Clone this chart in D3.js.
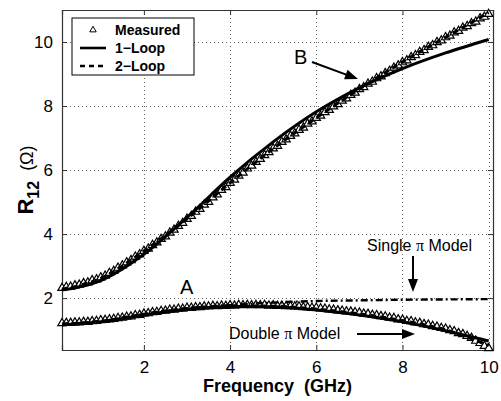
<!DOCTYPE html>
<html lang="en">
<head>
  <meta charset="UTF-8" />
  <title>R12 vs Frequency</title>
  <style>
    body {
      margin: 0;
      background: white;
    }
    svg text {
      font-family: 'Liberation Sans', Arial, sans-serif;
      fill: #000;
      white-space: pre;
    }
    .tick-label { font-size: 17px; }
    .axis-title { font-size: 18px; font-weight: bold; }
    .note { font-size: 16px; }
    .letter { font-size: 20px; }
    .legend-text { font-size: 14px; font-weight: bold; }
  </style>
</head>
<body>
  <svg width="501" height="401"></svg>

  <script src="https://d3js.org/d3.v7.min.js"></script>
  <script>
    // Frequency of measured points (GHz)
    const measFreq = d3.range(1, 101).map(i => i / 10);

    // Measured R12, curve B (upper)
    const measuredB = [
      2.30, 2.33, 2.34, 2.38, 2.40, 2.45, 2.47, 2.54, 2.57, 2.63,
      2.68, 2.77, 2.83, 2.93, 3.00, 3.10, 3.17, 3.28, 3.35, 3.46,
      3.53, 3.64, 3.72, 3.83, 3.91, 4.03, 4.12, 4.24, 4.33, 4.46,
      4.55, 4.68, 4.77, 4.90, 4.99, 5.13, 5.22, 5.36, 5.45, 5.58,
      5.68, 5.81, 5.90, 6.03, 6.12, 6.24, 6.33, 6.45, 6.54, 6.66,
      6.74, 6.86, 6.94, 7.05, 7.13, 7.24, 7.31, 7.43, 7.50, 7.61,
      7.68, 7.79, 7.86, 7.97, 8.04, 8.15, 8.22, 8.33, 8.40, 8.51,
      8.57, 8.68, 8.74, 8.85, 8.91, 9.01, 9.08, 9.18, 9.25, 9.35,
      9.41, 9.51, 9.57, 9.67, 9.73, 9.83, 9.88, 9.98, 10.03, 10.13,
      10.18, 10.28, 10.33, 10.43, 10.48, 10.57, 10.62, 10.72, 10.77, 10.86
    ];

    // Measured R12, curve A (lower)
    const measuredA = [
      1.20, 1.21, 1.21, 1.22, 1.22, 1.24, 1.24, 1.26, 1.27, 1.29,
      1.30, 1.32, 1.33, 1.36, 1.37, 1.40, 1.41, 1.45, 1.46, 1.50,
      1.51, 1.54, 1.55, 1.58, 1.59, 1.62, 1.62, 1.65, 1.65, 1.68,
      1.68, 1.70, 1.70, 1.72, 1.72, 1.74, 1.73, 1.75, 1.74, 1.76,
      1.75, 1.77, 1.76, 1.77, 1.76, 1.77, 1.76, 1.77, 1.75, 1.76,
      1.74, 1.75, 1.73, 1.73, 1.72, 1.72, 1.70, 1.70, 1.68, 1.68,
      1.66, 1.65, 1.63, 1.62, 1.60, 1.59, 1.57, 1.56, 1.54, 1.53,
      1.50, 1.49, 1.46, 1.45, 1.42, 1.41, 1.37, 1.36, 1.32, 1.31,
      1.27, 1.26, 1.22, 1.21, 1.17, 1.15, 1.11, 1.09, 1.05, 1.03,
      0.98, 0.95, 0.89, 0.86, 0.80, 0.74, 0.65, 0.58, 0.49, 0.42
    ];

    // Model curves, sampled at these frequencies (GHz)
    const modelFreq = [0.1, 1, 2, 3, 4, 5, 6, 7, 8, 9, 10];
    const oneLoopB  = [2.25, 2.55, 3.37, 4.52, 5.78, 6.88, 7.82, 8.57, 9.17, 9.66, 10.08];
    const twoLoopB  = [2.28, 2.62, 3.47, 4.48, 5.60, 6.67, 7.63, 8.53, 9.38, 10.15, 10.92];
    const oneLoopA  = [1.16, 1.26, 1.47, 1.65, 1.74, 1.73, 1.63, 1.47, 1.26, 0.98, 0.66];
    const twoLoopA  = [1.19, 1.28, 1.50, 1.68, 1.76, 1.75, 1.66, 1.51, 1.30, 1.01, 0.52];
    const singlePiA = [1.19, 1.28, 1.50, 1.68, 1.78, 1.86, 1.91, 1.93, 1.95, 1.96, 1.97];

    const xTicks = [2, 4, 6, 8, 10];
    const yTicks = [2, 4, 6, 8, 10];
    const legendLabels = ["Measured", "1\u2212Loop", "2\u2212Loop"];

    const margin = { left: 62, top: 10, right: 8, bottom: 51 };
    const width = 501, height = 401;
    const x = d3.scaleLinear().domain([0.1, 10.1]).range([margin.left, width - margin.right]);
    const y = d3.scaleLinear().domain([0.38, 11]).range([height - margin.bottom, margin.top]);

    const svg = d3.select("svg");
    const x0 = x.range()[0], x1 = x.range()[1];
    const y0 = y.range()[0], y1 = y.range()[1];

    // dotted grid
    const grid = svg.append("g").attr("stroke", "#666").attr("stroke-width", 1)
      .attr("stroke-dasharray", "1,3");
    xTicks.forEach(t => grid.append("line")
      .attr("x1", Math.round(x(t)) + 0.5).attr("x2", Math.round(x(t)) + 0.5)
      .attr("y1", y1).attr("y2", y0));
    yTicks.forEach(t => grid.append("line")
      .attr("x1", x0).attr("x2", x1)
      .attr("y1", Math.round(y(t)) + 0.5).attr("y2", Math.round(y(t)) + 0.5));

    // axes with inward ticks on all four sides
    const tk = 5;
    svg.append("g").attr("transform", `translate(0,${y0})`)
      .call(d3.axisBottom(x).tickValues(xTicks).tickSize(-tk).tickPadding(tk + 6).tickFormat(d3.format("d")));
    svg.append("g").attr("transform", `translate(0,${y1})`)
      .call(d3.axisTop(x).tickValues(xTicks).tickSize(-tk).tickFormat(""));
    svg.append("g").attr("transform", `translate(${x0},0)`)
      .call(d3.axisLeft(y).tickValues(yTicks).tickSize(-tk).tickPadding(tk + 4).tickFormat(d3.format("d")));
    svg.append("g").attr("transform", `translate(${x1},0)`)
      .call(d3.axisRight(y).tickValues(yTicks).tickSize(-tk).tickFormat(""));
    svg.selectAll(".domain").attr("stroke", "#333").attr("stroke-width", 1.2);
    svg.selectAll(".tick line").attr("stroke", "#333");
    svg.selectAll(".tick text").attr("class", "tick-label").attr("font-family", null).attr("font-size", null);

    const plot = svg.append("g");
    const line = d3.line()
      .x((d, i) => x(modelFreq[i]))
      .y(d => y(d))
      .curve(d3.curveMonotoneX);

    // measured triangles
    const tri = d3.symbol().type(d3.symbolTriangle).size(30);
    [measuredB, measuredA].forEach(vals => {
      plot.append("g").selectAll("path")
        .data(vals)
        .join("path")
          .attr("d", tri)
          .attr("transform", (d, i) => `translate(${x(measFreq[i])},${y(d) - 0.5})`)
          .attr("fill", "white")
          .attr("stroke", "#000")
          .attr("stroke-width", 1.2);
    });

    // model lines
    plot.append("path").attr("d", line(singlePiA)).attr("fill", "none")
      .attr("stroke", "#000").attr("stroke-width", 2.4).attr("stroke-dasharray", "7,3,2,3");
    [oneLoopB, oneLoopA].forEach(v => plot.append("path").attr("d", line(v))
      .attr("fill", "none").attr("stroke", "#000").attr("stroke-width", 3));
    [twoLoopB, twoLoopA].forEach(v => plot.append("path").attr("d", line(v))
      .attr("fill", "none").attr("stroke", "#000").attr("stroke-width", 3)
      .attr("stroke-dasharray", "6,4"));

    // axis titles
    svg.append("text").attr("class", "axis-title")
      .attr("x", (x0 + x1) / 2).attr("y", 392).attr("text-anchor", "middle")
      .text("Frequency  (GHz)");
    const yt = svg.append("text")
      .attr("transform", `translate(33,${(y0 + y1) / 2}) rotate(-90)`)
      .attr("text-anchor", "middle");
    yt.append("tspan").attr("font-weight", "bold").attr("font-size", "22px").text("R");
    yt.append("tspan").attr("font-weight", "bold").attr("font-size", "16px").attr("dy", 6).text("12");
    yt.append("tspan").attr("font-size", "18px").attr("dy", -6).text("  (\u03A9)");

    // annotations
    const arrow = (ax, ay, bx, by) => {
      const ang = Math.atan2(by - ay, bx - ax), L = 13, W = 5;
      svg.append("line").attr("x1", ax).attr("y1", ay)
        .attr("x2", bx - L * Math.cos(ang) * 0.8).attr("y2", by - L * Math.sin(ang) * 0.8)
        .attr("stroke", "#000").attr("stroke-width", 2);
      const p = [[bx, by],
        [bx - L * Math.cos(ang) + W * Math.sin(ang), by - L * Math.sin(ang) - W * Math.cos(ang)],
        [bx - L * Math.cos(ang) - W * Math.sin(ang), by - L * Math.sin(ang) + W * Math.cos(ang)]];
      svg.append("path").attr("d", "M" + p.join("L") + "Z").attr("fill", "#000");
    };

    svg.append("text").attr("class", "letter").attr("x", 294).attr("y", 64).text("B");
    arrow(312, 62, 358, 79);
    svg.append("text").attr("class", "letter").attr("x", 180).attr("y", 294).text("A");

    const sp = svg.append("text").attr("class", "note").attr("x", 367).attr("y", 251);
    sp.append("tspan").text("Single ");
    sp.append("tspan").attr("font-family", "'Liberation Serif', serif").text("\u03C0");
    sp.append("tspan").text(" Model");
    arrow(413, 256, 413, 292);

    const dp = svg.append("text").attr("class", "note").attr("x", 229).attr("y", 339);
    dp.append("tspan").text("Double ");
    dp.append("tspan").attr("font-family", "'Liberation Serif', serif").text("\u03C0");
    dp.append("tspan").text(" Model");
    arrow(357, 334, 415, 334);

    // legend
    const lg = svg.append("g").attr("transform", "translate(72,18)");
    lg.append("rect").attr("width", 122).attr("height", 57)
      .attr("fill", "white").attr("stroke", "#000").attr("stroke-width", 1);
    legendLabels.forEach((name, i) => {
      const cy = 12 + i * 18;
      lg.append("text").attr("class", "legend-text").attr("x", 43).attr("y", cy + 5).text(name);
      if (i === 0) {
        lg.append("path").attr("d", d3.symbol().type(d3.symbolTriangle).size(18))
          .attr("transform", `translate(21,${cy})`)
          .attr("fill", "white").attr("stroke", "#000");
      } else {
        lg.append("line").attr("x1", 8).attr("x2", 34).attr("y1", cy).attr("y2", cy)
          .attr("stroke", "#000").attr("stroke-width", 2.6)
          .attr("stroke-dasharray", i === 2 ? "5,4" : null);
      }
    });
  </script>
</body>
</html>
